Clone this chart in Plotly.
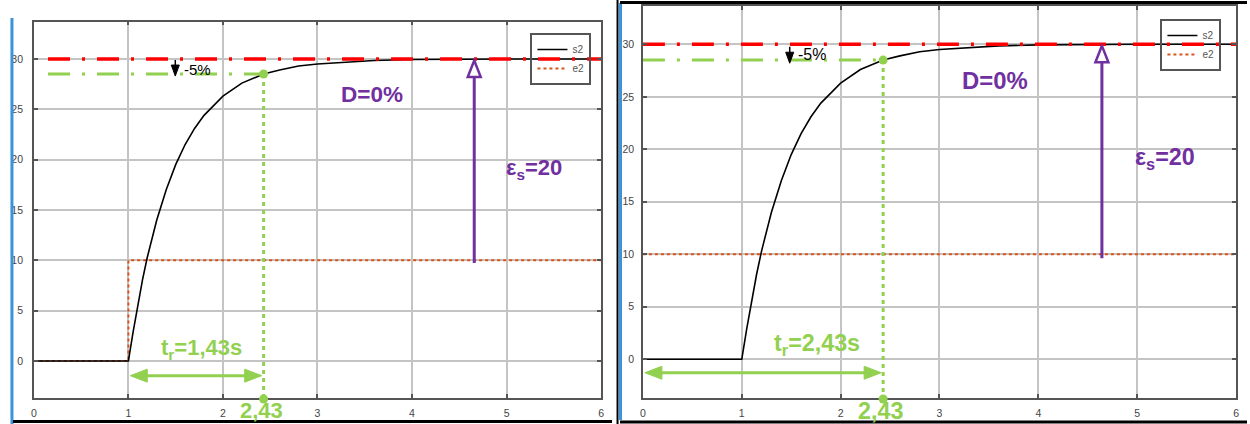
import plotly.graph_objects as go

# ---- data -------------------------------------------------------------
# output s2 (first-order response to the step applied at t = 1 s)
t_s2 = [0, 1, 1.05, 1.1, 1.15, 1.2, 1.3, 1.4, 1.5, 1.6, 1.7, 1.8, 1.9, 2.0,
        2.2, 2.43, 2.6, 2.8, 3.0, 3.3, 3.6, 4.0, 4.5, 5.0, 6.0]
s2 = [0, 0, 2.9, 5.6, 8.1, 10.3, 14.0, 17.0, 19.5, 21.5, 23.1, 24.4, 25.4, 26.3,
      27.6, 28.5, 28.9, 29.3, 29.5, 29.7, 29.85, 29.95, 30, 30, 30]

# input e2 : step at t = 1 s on the left panel, constant on the right panel
t_e2 = [[0, 1, 1, 6], [0, 6]]
e2 = [[0, 0, 10, 10], [10, 10]]

final_value = 30          # steady-state value of s2
band_value = 28.5         # 95 % of the final value
t_95 = 2.43               # time when s2 reaches 95 %
e_final = 10              # steady-state value of e2
static_error = final_value - e_final

# per-panel annotation settings (left, right)
tr_text = ["t<sub>r</sub>=1,43s", "t<sub>r</sub>=2,43s"]
tr_arrow_start = [1.0, 0.0]
ref_line_start = [0.15, 0.0]
tr_arrow_y = [-1.46, -1.28]
eps_x = [4.658, 4.643]
eps_bottom = [9.73, 9.62]
pct_arrow_x = [1.496, 1.485]
pct_arrow_top = [29.9, 29.77]
pct_arrow_tip = [28.3, 28.2]
tr_label_pos = [(1.77, 1.2), (1.757, 1.42)]
d_label_pos = [(3.575, 26.5), (3.56, 26.55)]
eps_label_pos = [(5.29, 19.1), (5.28, 19.1)]
pct_label_pos = [(1.735, 29.0), (1.71, 29.05)]
t95_label_x = [2.413, 2.40]
font_scale = [1.0, 1.06]
ytick_standoff = [7, 5]

# ---- styling ----------------------------------------------------------
W, H = 1250, 424
GREEN = "#92D050"
PURPLE = "#7030A0"
RED = "#FF0000"
ORANGE = "#D95319"
BLUE = "#3B94D9"
FONT = "Liberation Sans, Arial, sans-serif"

x_domains = [[31 / W, 601 / W], [643 / W, 1239 / W]]
y_domains = [[1 - 397.7 / H, 1 - 21.7 / H], [1 - 397.7 / H, 1 - 6 / H]]
y_ranges = [[-3.65, 33.7], [-3.657, 33.65]]
legend_boxes = [(530 / W, 1 - 33 / H), (1163 / W, 1 - 19 / H)]
bottom_dot_paper = 1 - 399 / H       # dot just under the x axis line
t95_label_paper = 1 - 410.5 / H      # "2,43" label under the axis

fig = go.Figure()
shapes = []
annotations = []

for i in range(2):
    xr = "x" if i == 0 else "x2"
    yr = "y" if i == 0 else "y2"
    leg = "legend" if i == 0 else "legend2"
    fs = font_scale[i]

    # e2 (input)
    fig.add_trace(go.Scatter(
        x=t_e2[i], y=e2[i], mode="lines", name="e2", legend=leg,
        line=dict(color=ORANGE, width=2, dash="dot"),
        xaxis=xr, yaxis=yr, legendrank=2))
    # s2 (output)
    fig.add_trace(go.Scatter(
        x=t_s2, y=s2, mode="lines", name="s2", legend=leg,
        line=dict(color="black", width=1.6),
        xaxis=xr, yaxis=yr, legendrank=1))
    # final value line
    fig.add_trace(go.Scatter(
        x=[ref_line_start[i], 6], y=[final_value, final_value], mode="lines",
        showlegend=False, hoverinfo="skip",
        line=dict(color=RED, width=3.5, dash="22px,12px,3px,12px"),
        xaxis=xr, yaxis=yr))
    # 95 % band line
    fig.add_trace(go.Scatter(
        x=[ref_line_start[i], t_95], y=[band_value, band_value], mode="lines",
        showlegend=False, hoverinfo="skip",
        line=dict(color=GREEN, width=3, dash="22px,12px,3px,12px"),
        xaxis=xr, yaxis=yr))
    # vertical dotted line at t_95 down to the axis
    fig.add_trace(go.Scatter(
        x=[t_95, t_95], y=[band_value, y_ranges[i][0]], mode="lines",
        showlegend=False, hoverinfo="skip",
        line=dict(color=GREEN, width=3, dash="4px,4px"),
        xaxis=xr, yaxis=yr))
    fig.add_trace(go.Scatter(
        x=[t_95], y=[band_value], mode="markers",
        showlegend=False, hoverinfo="skip", cliponaxis=False,
        marker=dict(color=GREEN, size=9),
        xaxis=xr, yaxis=yr))
    # dot on the time axis at t_95
    shapes.append(dict(type="circle", xref=xr, yref="paper",
                       xsizemode="pixel", ysizemode="pixel",
                       xanchor=t_95, yanchor=bottom_dot_paper,
                       x0=-4.5, x1=4.5, y0=-4.5, y1=4.5,
                       fillcolor=GREEN, line=dict(color=GREEN, width=0)))

    # rise-time double arrow
    ya = tr_arrow_y[i]
    shapes.append(dict(type="line", xref=xr, yref=yr, x0=tr_arrow_start[i] + 0.1, x1=t_95 - 0.1,
                       y0=ya, y1=ya, line=dict(color=GREEN, width=3)))
    shapes.append(dict(type="path", xref=xr, yref=yr, xsizemode="pixel", ysizemode="pixel",
                       xanchor=tr_arrow_start[i] + 0.02, yanchor=ya,
                       path="M0,0 L17,6.5 L17,-6.5 Z", fillcolor=GREEN,
                       line=dict(color=GREEN, width=1)))
    shapes.append(dict(type="path", xref=xr, yref=yr, xsizemode="pixel", ysizemode="pixel",
                       xanchor=t_95 - 0.02, yanchor=ya,
                       path="M0,0 L-17,6.5 L-17,-6.5 Z", fillcolor=GREEN,
                       line=dict(color=GREEN, width=1)))

    # -5 % arrow
    shapes.append(dict(type="line", xref=xr, yref=yr, x0=pct_arrow_x[i], x1=pct_arrow_x[i],
                       y0=pct_arrow_top[i], y1=pct_arrow_tip[i] + 0.6,
                       line=dict(color="black", width=1.5)))
    shapes.append(dict(type="path", xref=xr, yref=yr, xsizemode="pixel", ysizemode="pixel",
                       xanchor=pct_arrow_x[i], yanchor=pct_arrow_tip[i],
                       path="M0,0 L-4,11 L4,11 Z", fillcolor="black",
                       line=dict(color="black", width=1)))

    # static error arrow (from e2 to final value)
    shapes.append(dict(type="line", xref=xr, yref=yr, x0=eps_x[i], x1=eps_x[i],
                       y0=eps_bottom[i], y1=e_final + static_error - 1,
                       line=dict(color=PURPLE, width=3)))
    shapes.append(dict(type="path", xref=xr, yref=yr, xsizemode="pixel", ysizemode="pixel",
                       xanchor=eps_x[i], yanchor=e_final + static_error,
                       path="M0,-1.5 L-6.5,-18 L6.5,-18 Z", fillcolor="white",
                       line=dict(color=PURPLE, width=2.5)))

    # text labels
    annotations += [
        dict(x=tr_label_pos[i][0], y=tr_label_pos[i][1], xref=xr, yref=yr,
             text=tr_text[i], showarrow=False, xanchor="center", yanchor="middle",
             font=dict(family=FONT, size=22 * fs, color=GREEN, weight="bold")),
        dict(x=d_label_pos[i][0], y=d_label_pos[i][1], xref=xr, yref=yr,
             text="D=0%", showarrow=False, xanchor="center", yanchor="middle",
             font=dict(family=FONT, size=22.5 * fs, color=PURPLE, weight="bold")),
        dict(x=eps_label_pos[i][0], y=eps_label_pos[i][1], xref=xr, yref=yr,
             text=f"ε<sub>s</sub>={static_error}", showarrow=False,
             xanchor="center", yanchor="middle",
             font=dict(family=FONT, size=22 * fs, color=PURPLE, weight="bold")),
        dict(x=pct_label_pos[i][0], y=pct_label_pos[i][1], xref=xr, yref=yr,
             text="-5%", showarrow=False, xanchor="center", yanchor="middle",
             font=dict(family=FONT, size=15 * fs, color="black")),
        dict(x=t95_label_x[i], y=t95_label_paper, xref=xr, yref="paper",
             text=f"{t_95:.2f}".replace(".", ","), showarrow=False,
             xanchor="center", yanchor="middle",
             font=dict(family=FONT, size=22 * fs, color=GREEN, weight="bold")),
    ]

# frame decorations around the two panels (pixel positions on the page)
def px_line(x0, y0, x1, y1, color, width):
    return dict(type="line", xref="paper", yref="paper",
                x0=x0 / W, x1=x1 / W, y0=1 - y0 / H, y1=1 - y1 / H,
                line=dict(color=color, width=width))

shapes += [
    px_line(9, 18, 9, 424, BLUE, 3),
    px_line(10, 421.5, 612, 421.5, "black", 3),
    px_line(617.5, 0, 617.5, 424, "black", 2),
    px_line(620.5, 3, 620.5, 420, BLUE, 3),
    px_line(620, 2.5, 1250, 2.5, "black", 3),
    px_line(620, 422, 1250, 422, "black", 3),
]

axis_common = dict(
    showline=True, linecolor="#555555", linewidth=1.5, mirror="allticks",
    ticks="inside", ticklen=4, tickcolor="#555555", tickwidth=1.5,
    showgrid=True, gridcolor="#C4C4C4", gridwidth=1.8, zeroline=False,
    tickfont=dict(family=FONT, size=10.5, color="#444444"),
)

layout_axes = {}
for i in range(2):
    sx = "" if i == 0 else "2"
    layout_axes[f"xaxis{sx}"] = dict(
        axis_common, domain=x_domains[i], range=[0, 6], dtick=1, tick0=0,
        anchor=f"y{sx}", ticklabelstandoff=5)
    layout_axes[f"yaxis{sx}"] = dict(
        axis_common, domain=y_domains[i], range=y_ranges[i], dtick=5, tick0=0,
        anchor=f"x{sx}", ticklabelstandoff=ytick_standoff[i])

legend_common = dict(
    xanchor="left", yanchor="top", bgcolor="rgba(255,255,255,0)",
    bordercolor="#555555", borderwidth=2, itemwidth=30,
    font=dict(family=FONT, size=10, color="#555555"),
    tracegroupgap=0, traceorder="normal", itemclick=False,
)

fig.update_layout(
    width=W, height=H,
    margin=dict(l=0, r=0, t=0, b=0),
    paper_bgcolor="white", plot_bgcolor="white",
    showlegend=True,
    legend=dict(legend_common, x=legend_boxes[0][0], y=legend_boxes[0][1]),
    legend2=dict(legend_common, x=legend_boxes[1][0], y=legend_boxes[1][1]),
    shapes=shapes, annotations=annotations,
    **layout_axes,
)

fig.write_html("out.html")
